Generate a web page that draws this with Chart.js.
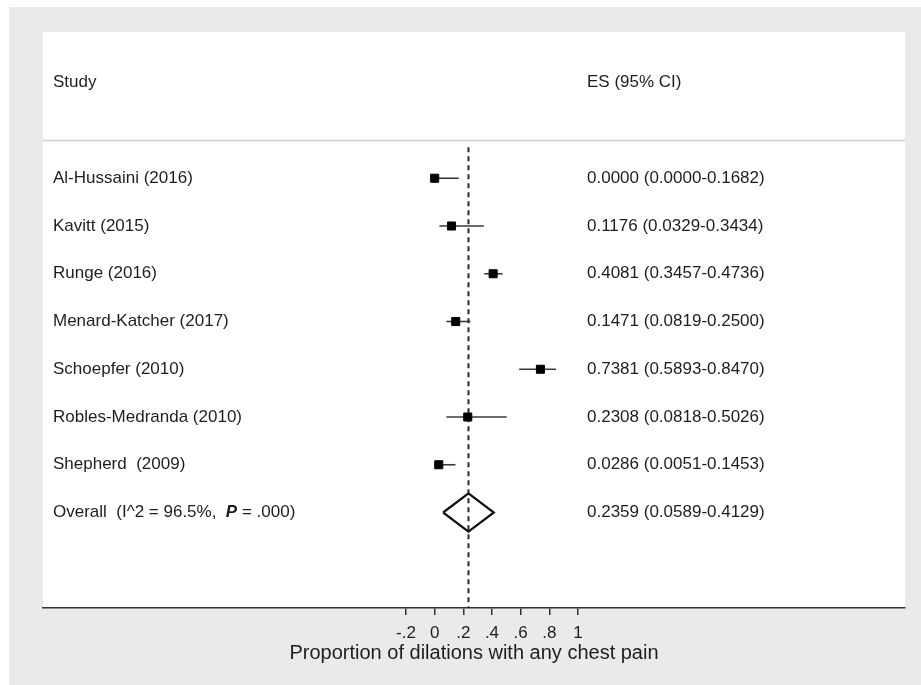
<!DOCTYPE html>
<html>
<head>
<meta charset="utf-8">
<script src="https://cdn.jsdelivr.net/npm/chart.js@4.4.1/dist/chart.umd.min.js"></script>
<style>
  html, body { margin: 0; padding: 0; background: #ffffff; }
  #c { display: block; }
</style>
</head>
<body>
<canvas id="c" width="921" height="685"></canvas>
<script>
// Studies included in the pooled estimate
const studies = [
  'Al-Hussaini (2016)',
  'Kavitt (2015)',
  'Runge (2016)',
  'Menard-Katcher (2017)',
  'Schoepfer (2010)',
  'Robles-Medranda (2010)',
  'Shepherd  (2009)'
];
// Effect size (proportion) with 95% confidence limits
const es     = [0.0000, 0.1176, 0.4081, 0.1471, 0.7381, 0.2308, 0.0286];
const ciLow  = [0.0000, 0.0329, 0.3457, 0.0819, 0.5893, 0.0818, 0.0051];
const ciHigh = [0.1682, 0.3434, 0.4736, 0.2500, 0.8470, 0.5026, 0.1453];

// Pooled (random-effects) estimate
const overallES = 0.2359;
const overallLow = 0.0589;
const overallHigh = 0.4129;
const overallI2 = '96.5%';
const overallP = '.000';

// Axis
const xTicks = [-0.2, 0, 0.2, 0.4, 0.6, 0.8, 1];
const xTitle = 'Proportion of dilations with any chest pain';
const headStudy = 'Study';
const headES = 'ES (95% CI)';

// ---- layout helpers ----
const X_MIN = -2.733, X_MAX = 3.282;   // x range spanning the whole plot panel
const Y_MIN = -2, Y_MAX = 10;          // one unit per table row
const overallRow = studies.length + 1;
const DIAMOND_HALF = 0.4;
const FONT = '"Liberation Sans", Arial, Helvetica, sans-serif';
const TEXT = '#1e1e1e';

const fmt4 = v => v.toFixed(4);
const tickFmt = v => {
  if (Math.abs(v) < 1e-9) return '0';
  if (Math.abs(v - Math.round(v)) < 1e-9) return String(Math.round(v));
  const s = v.toFixed(1);
  return s.replace(/^(-?)0\./, '$1.');
};

// Confidence-interval whiskers, one dataset per study
const ciSets = studies.map((s, i) => ({
  type: 'line',
  data: [{ x: ciLow[i], y: i + 1 }, { x: ciHigh[i], y: i + 1 }],
  borderColor: '#3a3a3a',
  borderWidth: 1.6,
  pointRadius: 0,
  fill: false
}));

// Point estimates as squares
const pointSet = {
  type: 'scatter',
  data: es.map((v, i) => ({ x: v, y: i + 1 })),
  pointStyle: 'rect',
  pointRadius: 5.7,
  backgroundColor: '#000',
  borderColor: '#000',
  borderWidth: 1
};

// Pooled estimate diamond
const diamondSet = {
  type: 'line',
  data: [
    { x: overallLow, y: overallRow },
    { x: overallES, y: overallRow - DIAMOND_HALF },
    { x: overallHigh, y: overallRow },
    { x: overallES, y: overallRow + DIAMOND_HALF },
    { x: overallLow, y: overallRow }
  ],
  borderColor: '#111',
  borderWidth: 2.2,
  borderJoinStyle: 'miter',
  pointRadius: 0,
  fill: false,
  tension: 0
};

// Dashed reference line at the pooled estimate
const refSet = {
  type: 'line',
  data: [{ x: overallES, y: 0.35 }, { x: overallES, y: Y_MAX }],
  borderColor: '#2a2a2a',
  borderWidth: 2,
  borderDash: [5, 4],
  pointRadius: 0,
  fill: false
};

const backdrop = {
  id: 'backdrop',
  beforeDraw(chart) {
    const { ctx, chartArea: a, width, height } = chart;
    ctx.save();
    ctx.fillStyle = '#ffffff';
    ctx.fillRect(0, 0, width, height);
    ctx.fillStyle = '#eaeaea';
    ctx.fillRect(9, 7, width - 9, height - 7);
    ctx.fillStyle = '#ffffff';
    ctx.fillRect(a.left, a.top - 3, a.right - a.left, a.bottom - a.top + 3);
    // header rule
    const ys = chart.scales.y;
    const yr = Math.round(ys.getPixelForValue(0.2)) + 0.5;
    ctx.strokeStyle = '#cdcdcd';
    ctx.lineWidth = 1.5;
    ctx.beginPath();
    ctx.moveTo(a.left, yr);
    ctx.lineTo(a.right, yr);
    ctx.stroke();
    ctx.restore();
  }
};

const tableText = {
  id: 'tableText',
  afterDatasetsDraw(chart) {
    const { ctx } = chart;
    const ys = chart.scales.y;
    const xStudy = 53, xES = 587;
    ctx.save();
    ctx.fillStyle = TEXT;
    ctx.textBaseline = 'middle';
    ctx.textAlign = 'left';
    ctx.font = '17px ' + FONT;

    ctx.fillText(headStudy, xStudy, ys.getPixelForValue(-1));
    ctx.fillText(headES, xES, ys.getPixelForValue(-1));

    studies.forEach((s, i) => {
      const y = ys.getPixelForValue(i + 1);
      ctx.fillText(s, xStudy, y);
      ctx.fillText(fmt4(es[i]) + ' (' + fmt4(ciLow[i]) + '-' + fmt4(ciHigh[i]) + ')', xES, y);
    });

    const yo = ys.getPixelForValue(overallRow);
    let x = xStudy;
    const part1 = 'Overall  (I^2 = ' + overallI2 + ',  ';
    ctx.font = '17px ' + FONT;
    ctx.fillText(part1, x, yo);
    x += ctx.measureText(part1).width;
    ctx.font = 'italic bold 17px ' + FONT;
    ctx.fillText('P', x, yo);
    x += ctx.measureText('P').width;
    ctx.font = '17px ' + FONT;
    ctx.fillText(' = ' + overallP + ')', x, yo);

    ctx.fillText(fmt4(overallES) + ' (' + fmt4(overallLow) + '-' + fmt4(overallHigh) + ')', xES, yo);
    ctx.restore();
  }
};

new Chart(document.getElementById('c'), {
  type: 'scatter',
  data: { datasets: [pointSet, diamondSet, ...ciSets, refSet] },
  options: {
    responsive: false,
    animation: false,
    layout: { padding: { left: 43, right: 16, top: 35, bottom: 0 } },
    plugins: { legend: { display: false }, tooltip: { enabled: false } },
    scales: {
      x: {
        type: 'linear',
        min: X_MIN,
        max: X_MAX,
        afterBuildTicks: axis => { axis.ticks = xTicks.map(v => ({ value: v })); },
        afterFit: axis => { axis.height = 77; },
        grid: {
          display: true,
          drawOnChartArea: false,
          drawTicks: true,
          tickLength: 7,
          color: '#333',
          lineWidth: 1.5
        },
        border: { display: true, color: '#333', width: 1.5 },
        ticks: {
          autoSkip: false,
          maxRotation: 0,
          padding: 8,
          color: TEXT,
          font: { family: FONT, size: 17 },
          callback: v => tickFmt(v)
        },
        title: {
          display: true,
          text: xTitle,
          color: TEXT,
          font: { family: FONT, size: 20 },
          padding: { top: 0, bottom: 20 }
        }
      },
      y: {
        type: 'linear',
        display: false,
        min: Y_MIN,
        max: Y_MAX,
        reverse: true
      }
    }
  },
  plugins: [backdrop, tableText]
});
</script>
</body>
</html>
